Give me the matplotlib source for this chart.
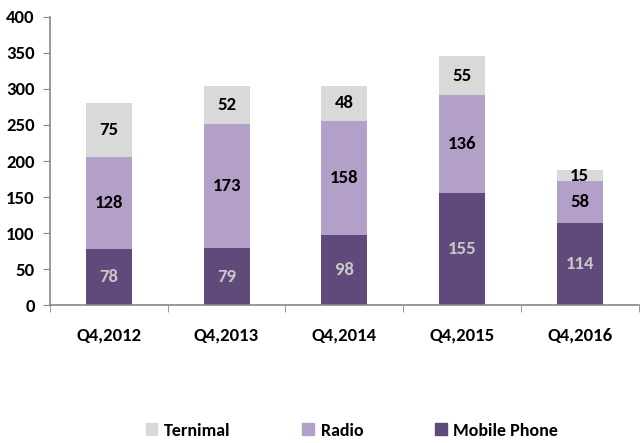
import numpy as np
import matplotlib.pyplot as plt
from matplotlib import font_manager
from matplotlib.patches import Patch

quarters = ['Q4,2012', 'Q4,2013', 'Q4,2014', 'Q4,2015', 'Q4,2016']
mobile = [78, 79, 98, 155, 114]
radio = [128, 173, 158, 136, 58]
terminal = [75, 52, 48, 55, 15]

c_mobile = '#5f4a7b'
c_radio = '#b3a0c8'
c_term = '#d9d9d9'

# Calibri-like face if present, otherwise something narrow
names = {f.name for f in font_manager.fontManager.ttflist}
prefer = ['Carlito', 'Roboto Condensed', 'Open Sans']
fam = [p for p in prefer if p in names][:1] + ['DejaVu Sans']
plt.rcParams['font.family'] = fam
plt.rcParams['font.weight'] = 'bold'

fig = plt.figure(figsize=(6.4, 4.43), dpi=100)
ax = fig.add_axes([0.078, 0.311, 0.92, 0.651])

x = np.arange(len(quarters))
w = 0.39
mob = np.array(mobile)
rad = np.array(radio)
ter = np.array(terminal)

ax.bar(x, mob, w, color=c_mobile)
ax.bar(x, rad, w, bottom=mob, color=c_radio)
ax.bar(x, ter, w, bottom=mob + rad, color=c_term)

fs = 13.5
for i in range(len(x)):
    ax.text(x[i], mob[i] / 2, str(mob[i]), ha='center', va='center',
            color='#c8c8c8', fontsize=fs)
    ax.text(x[i], mob[i] + rad[i] / 2, str(rad[i]), ha='center', va='center',
            color='black', fontsize=fs)
    ax.text(x[i], mob[i] + rad[i] + ter[i] / 2, str(ter[i]), ha='center',
            va='center', color='black', fontsize=fs)

ax.set_xlim(-0.5, len(x) - 0.5)
ax.set_ylim(0, 400)
ax.set_yticks(range(0, 401, 50))
ax.set_xticks(x)
ax.set_xticklabels(quarters)
ax.set_xticks(np.arange(-0.5, len(x), 1), minor=True)
ax.tick_params(axis='x', which='major', length=0, pad=16, labelsize=13.5)
ax.tick_params(axis='x', which='minor', length=5, color='#888888')
ax.tick_params(axis='y', length=5, pad=6, color='#888888', labelsize=13.5)

for s in ['top', 'right']:
    ax.spines[s].set_visible(False)
for s in ['left', 'bottom']:
    ax.spines[s].set_color('#888888')
    ax.spines[s].set_linewidth(1.2)

handles = [Patch(color=c_term, label='Ternimal'),
           Patch(color=c_radio, label='Radio'),
           Patch(color=c_mobile, label='Mobile Phone')]
fig.legend(handles=handles, loc='center', bbox_to_anchor=(0.55, 0.028), ncol=3,
           frameon=False, fontsize=13, handlelength=0.65, handleheight=0.65,
           handletextpad=0.35, columnspacing=4.0)

fig.savefig('out.png', dpi=100)
